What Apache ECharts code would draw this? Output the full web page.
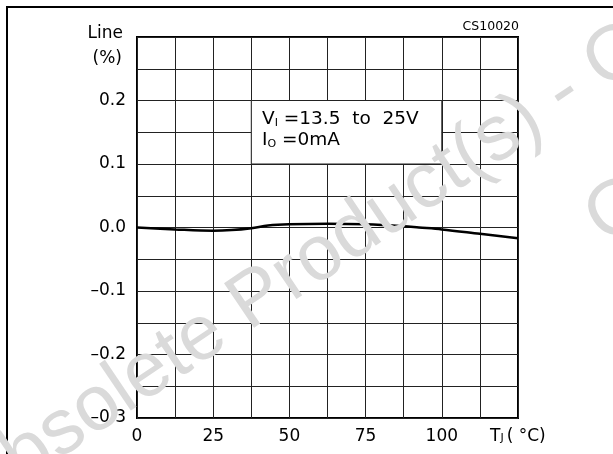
<!DOCTYPE html>
<html>
<head>
<meta charset="utf-8">
<style>
  html, body { margin: 0; padding: 0; background: #fff; }
  #chart { width: 613px; height: 454px; }
</style>
<script src="https://cdn.jsdelivr.net/npm/echarts@6/dist/echarts.min.js"></script>
</head>
<body>
<div id="chart"></div>
<script>
// Junction temperature (°C) and line regulation (%)
const temps = [0, 12.5, 25, 31, 37.5, 43, 50, 62.5, 75, 87.5, 92.5, 100, 112.5, 125];
const lineReg = [0.000, -0.003, -0.005, -0.004, -0.001, 0.003, 0.005, 0.006, 0.005, 0.002, 0.000, -0.003, -0.010, -0.017];

// Axis tick labels
const xTickLabels = [0, 25, 50, 75, 100];
const yTickLabels = [0.2, 0.1, 0.0, -0.1, -0.2, -0.3];

// Test-condition box bounds (temperature, %)
const noteBoxX = [37.5, 100];
const noteBoxY = [0.1, 0.2];

const FONT = '"DejaVu Sans", Verdana, sans-serif';
const STAMP_FONT = '"Liberation Sans", Arial, sans-serif';
const STAMP_1 = 'Obsolete Product(s) - Obsolete Product(s)';
const STAMP_2 = 'Obsolete Product(s)';

const chart = echarts.init(document.getElementById('chart'), null, { renderer: 'canvas' });

function fmtY(v) {
  if (!yTickLabels.some(t => Math.abs(t - v) < 1e-6)) return '';
  const r = Math.round(v * 10) / 10;
  const s = Math.abs(r).toFixed(1);
  return r < 0 ? '\u2013' + s : s;
}

const rot = 34 * Math.PI / 180;

chart.setOption({
  animation: false,
  backgroundColor: '#fff',
  grid: {
    left: 137, top: 37, width: 381, height: 381,
    show: true, borderColor: '#000', borderWidth: 2, backgroundColor: 'transparent'
  },
  xAxis: {
    type: 'value', min: 0, max: 125, interval: 12.5,
    axisLine: { show: false },
    axisTick: { show: false },
    splitLine: { show: true, lineStyle: { color: '#222', width: 1 } },
    axisLabel: {
      color: '#000', fontFamily: FONT, fontSize: 17, margin: 10,
      formatter: v => xTickLabels.some(t => Math.abs(t - v) < 1e-6) ? String(v) : ''
    }
  },
  yAxis: {
    type: 'value', min: -0.3, max: 0.3, interval: 0.05,
    axisLine: { show: false },
    axisTick: { show: false },
    splitLine: { show: true, lineStyle: { color: '#222', width: 1 } },
    axisLabel: {
      color: '#000', fontFamily: FONT, fontSize: 17, margin: 11,
      formatter: fmtY
    }
  },
  series: [{
    type: 'line',
    data: temps.map((t, i) => [t, lineReg[i]]),
    smooth: 0.35,
    symbol: 'none',
    lineStyle: { color: '#000', width: 2.5 },
    z: 3,
    markArea: {
      silent: true,
      itemStyle: { color: '#fff', borderColor: '#222', borderWidth: 1 },
      label: { show: false },
      data: [[{ coord: [noteBoxX[0], noteBoxY[1]] }, { coord: [noteBoxX[1], noteBoxY[0]] }]]
    }
  }],
  graphic: [
    // outer frame
    { type: 'rect', z: 1, shape: { x: 7, y: 7, width: 700, height: 600 },
      style: { fill: null, stroke: '#000', lineWidth: 2 } },
    // y-axis title
    { type: 'text', z: 10, x: 123, y: 34,
      style: { text: 'Line', font: '17px ' + FONT, fill: '#000', align: 'right', verticalAlign: 'middle' } },
    { type: 'text', z: 10, x: 122, y: 59,
      style: { text: '(%)', font: '17px ' + FONT, fill: '#000', align: 'right', verticalAlign: 'middle' } },
    // figure code
    { type: 'text', z: 10, x: 519, y: 27,
      style: { text: 'CS10020', font: '12.5px ' + FONT, fill: '#000', align: 'right', verticalAlign: 'middle' } },
    // x-axis title
    { type: 'text', z: 10, x: 490, y: 437,
      style: {
        text: '{m|T}{s|J}{m|( °C)}', verticalAlign: 'middle', fill: '#000',
        rich: {
          m: { font: '17px ' + FONT, fill: '#000' },
          s: { font: '11px ' + FONT, fill: '#000', padding: [3, 3, 0, 0] }
        }
      } },
    // test conditions
    { type: 'text', z: 10, x: 262, y: 109,
      style: {
        text: '{m|V}{s|I}{m| =13.5  to  25V}\n{m|I}{s|O}{m| =0mA}', fill: '#000',
        rich: {
          m: { font: '18.5px ' + FONT, fill: '#000', lineHeight: 21 },
          s: { font: '11px ' + FONT, fill: '#000', lineHeight: 21, padding: [7, 0, 0, 0] }
        }
      } },
    // hides the lower part of the bottom y label, as printed
    { type: 'rect', z: 15, shape: { x: 100, y: 422, width: 28, height: 10 },
      style: { fill: '#fff' } },
    // faint diagonal stamp across the sheet
    { type: 'text', z: 20, x: -40, y: 500, rotation: rot,
      style: { text: STAMP_1, font: '78px ' + STAMP_FONT, fill: '#dadada', align: 'left', verticalAlign: 'middle' } },
    { type: 'text', z: 20, x: 594, y: 228, rotation: rot,
      style: { text: STAMP_2, font: '78px ' + STAMP_FONT, fill: '#dadada', align: 'left', verticalAlign: 'middle' } }
  ]
});
</script>
</body>
</html>
